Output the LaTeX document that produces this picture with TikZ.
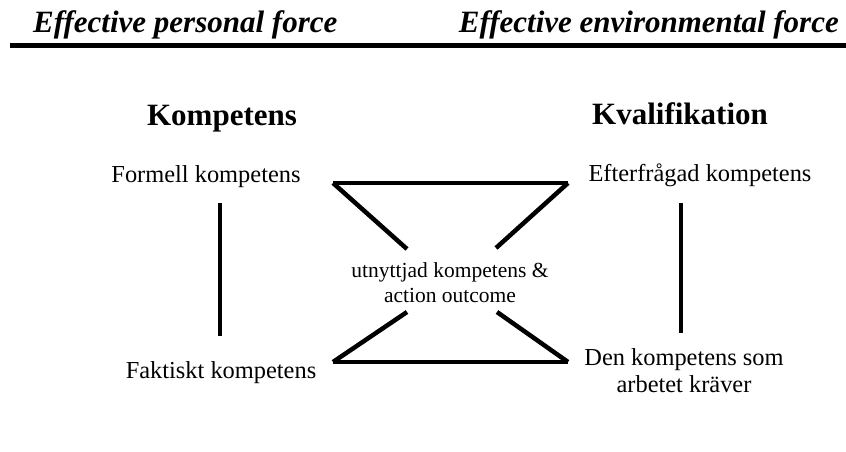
\documentclass[tikz,border=0pt]{standalone}
\usepackage{fontspec}
\setmainfont{Liberation Serif}
\begin{document}
\begin{tikzpicture}[x=1pt,y=-1pt,
  hdr/.style={inner sep=0pt,anchor=base,font=\fontsize{31}{37}\selectfont\bfseries\itshape},
  ttl/.style={inner sep=0pt,anchor=base,font=\fontsize{31}{37}\selectfont\bfseries},
  lbl/.style={inner sep=0pt,anchor=base,font=\fontsize{24.4}{27}\selectfont},
  lbl2/.style={inner sep=0pt,align=center,font=\fontsize{24.4}{27}\selectfont},
  mid/.style={inner sep=0pt,align=center,font=\fontsize{21.5}{25}\selectfont},
  thick line/.style={line width=4.5pt,line cap=butt}]
\useasboundingbox (0,0) rectangle (846,452);
% header
\node[hdr,anchor=base west] (hl) at (33,33) {Effective personal force};
\node[hdr,anchor=base east] (hr) at (839,33) {Effective environmental force};
\coordinate (r1) at (10,45.5);
\coordinate (r2) at (846,45.5);
\draw[thick line] (r1) -- (r2);
% titles
\node[ttl] (komp) at (222,125) {Kompetens};
\node[ttl] (kval) at (680,124) {Kvalifikation};
% labels
\node[lbl] (form) at (206,182) {Formell kompetens};
\node[lbl] (efter) at (700,181) {Efterfrågad kompetens};
\node[lbl] (fakt) at (221,378) {Faktiskt kompetens};
\node[lbl2] (den) at (684,371) {Den kompetens som\\arbetet kräver};
\node[mid] (utn) at (450,283) {utnyttjad kompetens \&\\action outcome};
% vertical lines
\coordinate (lv1) at (220,203);
\coordinate (lv2) at (220,336);
\coordinate (rv1) at (681,203);
\coordinate (rv2) at (681,333);
\draw[thick line] (lv1) -- (lv2);
\draw[thick line] (rv1) -- (rv2);
% hourglass
\coordinate (tl) at (333,183);
\coordinate (tr) at (568,183);
\coordinate (tld) at (407,249);
\coordinate (trd) at (496,248);
\coordinate (bl) at (333,362);
\coordinate (br) at (568,362);
\coordinate (bld) at (407,312);
\coordinate (brd) at (497,312);
\draw[thick line] (tl) -- (tr);
\draw[thick line] (bl) -- (br);
\draw[thick line] (tl) -- (tld);
\draw[thick line] (tr) -- (trd);
\draw[thick line] (bl) -- (bld);
\draw[thick line] (br) -- (brd);
\end{tikzpicture}
\end{document}
